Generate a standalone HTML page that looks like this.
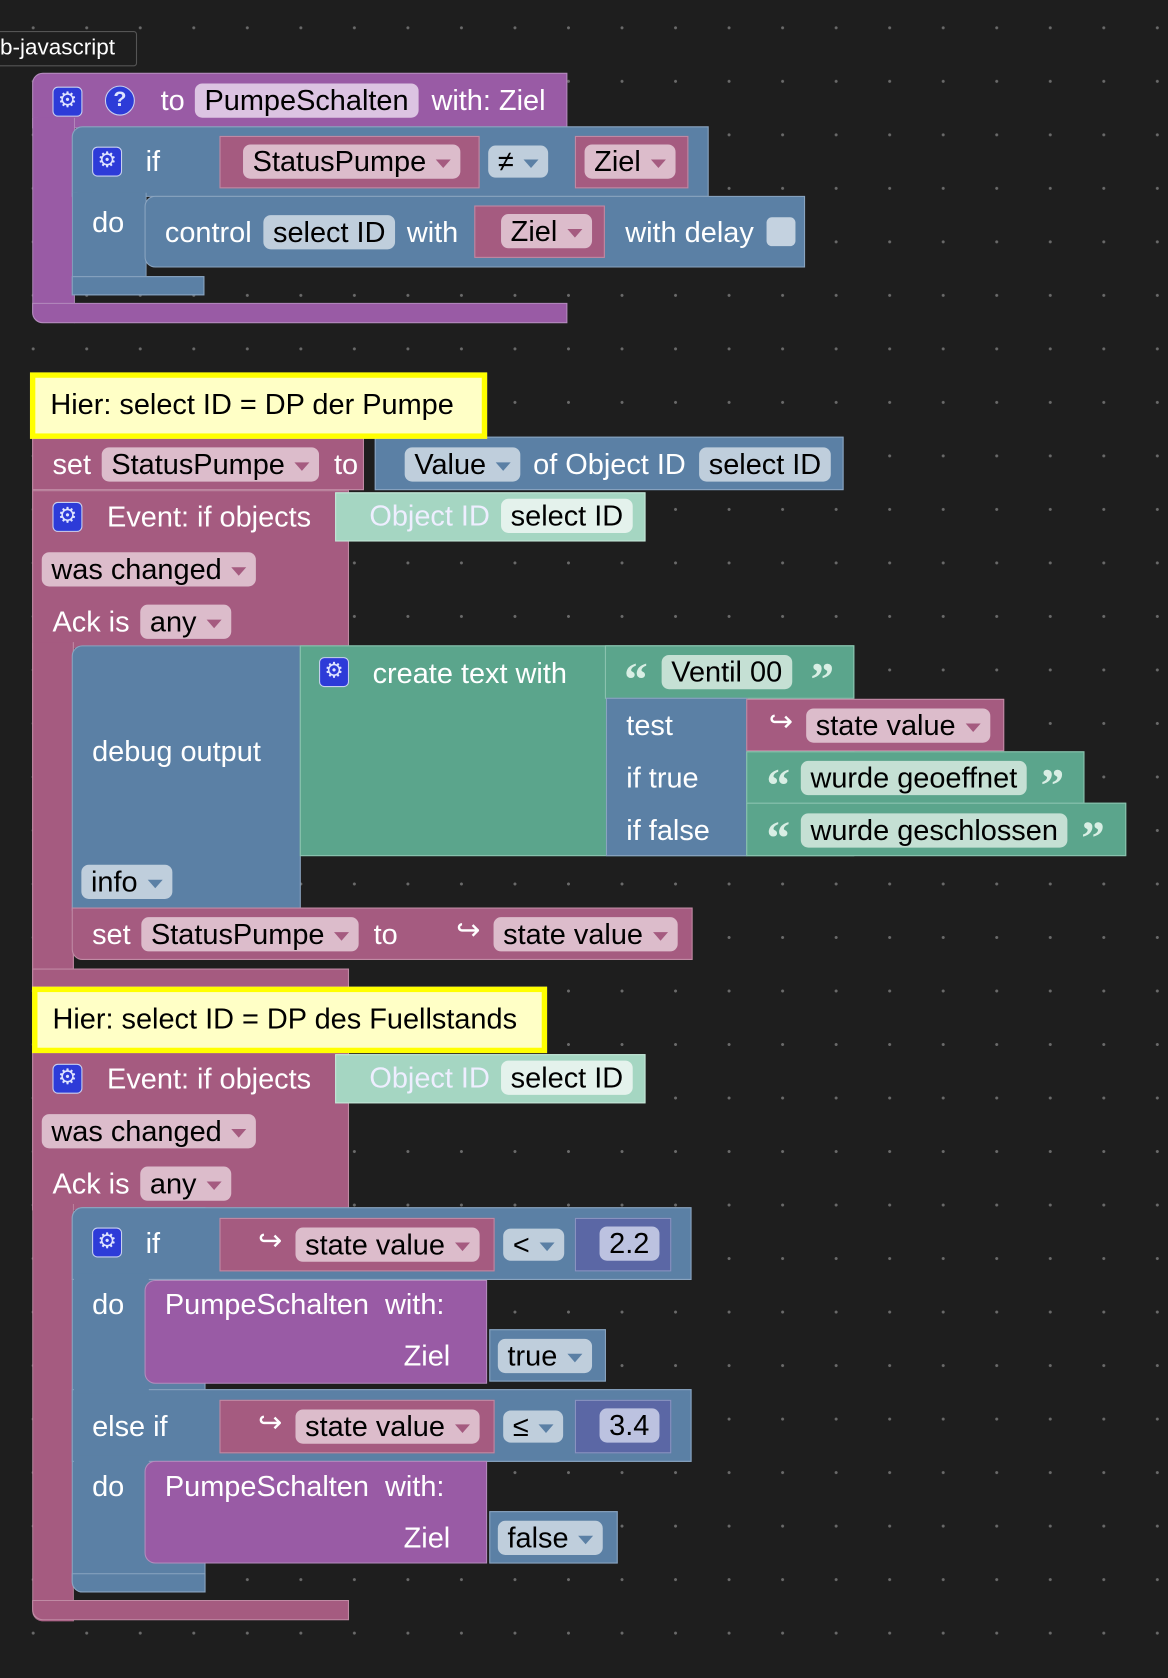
<!DOCTYPE html>
<html><head><meta charset="utf-8"><style>
html,body{margin:0;padding:0;background:#1e1e1e;width:1168px;height:1678px;overflow:hidden}
#s{position:absolute;left:0;top:0;width:1091px;height:1568px;transform:scale(1.0706,1.0702);transform-origin:0 0;
background:#1e1e1e radial-gradient(circle,#6a6a6a 1.2px,transparent 1.6px);background-size:50px 50px;background-position:6px 1px;
font-family:"Liberation Sans",sans-serif;font-size:27px;color:#fff}
div{position:absolute;box-sizing:border-box}
.p{background:#995ba5;border:1.5px solid #b48bbd}
.b{background:#5b80a5;border:1.5px solid #8aa4c0}
.r{background:#a55b80;border:1.5px solid #c08aa4}
.g{background:#5ba58c;border:1.5px solid #8cc4b0}
.t{line-height:1;white-space:nowrap}
.f{border-radius:7px;color:#000;padding:0 9px;height:32px;line-height:32px;white-space:nowrap}
.fr{background:#dcbccb}.fb{background:#bfcedc}.fg{background:#c5e0d4}.fp{background:#dcc4e2}
.dd:after{content:"";display:inline-block;margin-left:9px;border-left:7px solid transparent;border-right:7px solid transparent;border-top:8px solid #a55b80;vertical-align:middle}
.fb.dd:after{border-top-color:#5b80a5}
.gear{width:28px;height:28px;border-radius:5px;background:#2d3bd8;border:1.5px solid #c8d0f0;color:#dfe4ff;font-size:20px;line-height:25px;text-align:center}
.cm{background:#ffffc6;border:5px solid #ffff00;color:#000;padding-left:14px;line-height:50px;white-space:nowrap}
.q{font-family:"Liberation Serif",serif;font-size:44px;font-weight:bold;color:#d8eee4;line-height:1;white-space:nowrap}
</style></head><body><div id="s">

<div style="left:-2px;top:29px;width:130px;height:33px;border:1px solid #555;background:#1e1e1e;border-radius:0 3px 3px 0"></div>
<div class="t" style="left:0;top:34px;font-size:21px">b-javascript</div>

<!-- function block -->
<div class="p" style="left:30px;top:68px;width:500px;height:52px;border-radius:10px 0 0 0"></div>
<div class="p" style="left:30px;top:110px;width:40px;height:192px;border-top:none;border-radius:0 0 0 10px"></div>
<div class="p" style="left:30px;top:283px;width:500px;height:19px;border-radius:0 0 0 10px"></div>
<div class="gear" style="left:49px;top:81px">⚙</div>
<div class="gear" style="left:98px;top:80px;border-radius:50%;font-weight:bold">?</div>
<div class="t" style="left:150px;top:81px">to</div>
<div class="f fp" style="left:182px;top:78px">PumpeSchalten</div>
<div class="t" style="left:403px;top:81px">with: Ziel</div>

<div class="b" style="left:67px;top:118px;width:595px;height:66px;border-radius:10px 0 0 0"></div>
<div class="b" style="left:67px;top:180px;width:70px;height:96px;border-top:none;border-radius:0 0 0 10px"></div>
<div class="b" style="left:67px;top:258px;width:124px;height:18px"></div>
<div class="gear" style="left:86px;top:137px">⚙</div>
<div class="t" style="left:136px;top:138px">if</div>
<div class="t" style="left:86px;top:195px">do</div>
<div class="r" style="left:205px;top:127px;width:243px;height:49px"></div>
<div class="f fr dd" style="left:227px;top:135px">StatusPumpe</div>
<div class="f fb dd" style="left:456px;top:136px;height:30px;line-height:30px">≠</div>
<div class="r" style="left:537px;top:127px;width:106px;height:49px"></div>
<div class="f fr dd" style="left:546px;top:135px">Ziel</div>
<div class="b" style="left:135px;top:183px;width:617px;height:67px;border-radius:10px 0 0 10px"></div>
<div class="t" style="left:154px;top:204px">control</div>
<div class="f fb" style="left:246px;top:201px">select ID</div>
<div class="t" style="left:380px;top:204px">with</div>
<div class="r" style="left:443px;top:192px;width:122px;height:49px"></div>
<div class="f fr dd" style="left:468px;top:200px">Ziel</div>
<div class="t" style="left:584px;top:204px">with delay</div>
<div style="left:716px;top:203px;width:27px;height:27px;border-radius:5px;background:#c4d2e0"></div>

<!-- event 1 -->
<div class="r" style="left:30px;top:408px;width:310px;height:50px"></div>
<div class="b" style="left:350px;top:408px;width:438px;height:50px"></div>
<div class="t" style="left:49px;top:421px">set</div>
<div class="f fr dd" style="left:95px;top:418px">StatusPumpe</div>
<div class="t" style="left:312px;top:421px">to</div>
<div class="f fb dd" style="left:378px;top:418px">Value</div>
<div class="t" style="left:498px;top:421px">of Object ID</div>
<div class="f fb" style="left:653px;top:418px">select ID</div>

<div class="r" style="left:30px;top:458px;width:296px;height:148px;border-bottom:none"></div>
<div class="r" style="left:30px;top:600px;width:39px;height:322px;border-top:none;border-bottom:none"></div>
<div class="r" style="left:30px;top:905px;width:296px;height:20px"></div>
<div class="gear" style="left:49px;top:469px">⚙</div>
<div class="t" style="left:100px;top:470px">Event: if objects</div>
<div style="left:313px;top:460px;width:290px;height:46px;background:#a5d6c2;border:1.5px solid #c5e6d8"></div>
<div class="t" style="left:345px;top:469px;color:#eef">Object ID</div>
<div class="f fg" style="left:468px;top:466px;background:#e4f2ec">select ID</div>
<div class="f fr dd" style="left:39px;top:516px">was changed</div>
<div class="t" style="left:49px;top:568px">Ack is</div>
<div class="f fr dd" style="left:131px;top:565px">any</div>

<div class="b" style="left:67px;top:603px;width:214px;height:248px;border-radius:10px 0 0 0"></div>
<div class="t" style="left:86px;top:689px">debug output</div>
<div class="f fb dd" style="left:76px;top:808px">info</div>
<div class="g" style="left:280px;top:603px;width:518px;height:197px"></div>
<div class="gear" style="left:298px;top:614px">⚙</div>
<div class="t" style="left:348px;top:616px">create text with</div>
<div class="g" style="left:565px;top:603px;width:233px;height:50px"></div>
<div class="q" style="left:583px;top:614px">“</div>
<div class="f fg" style="left:618px;top:612px">Ventil 00</div>
<div class="q" style="left:757px;top:614px">”</div>
<div class="b" style="left:566px;top:652px;width:132px;height:148px"></div>
<div class="t" style="left:585px;top:665px">test</div>
<div class="t" style="left:585px;top:714px">if true</div>
<div class="t" style="left:585px;top:763px">if false</div>
<div class="r" style="left:697px;top:653px;width:241px;height:49px"></div>
<div class="t" style="left:718px;top:661px">↪</div>
<div class="f fr dd" style="left:753px;top:662px">state value</div>
<div class="g" style="left:697px;top:702px;width:316px;height:49px"></div>
<div class="q" style="left:716px;top:713px">“</div>
<div class="f fg" style="left:748px;top:711px">wurde geoeffnet</div>
<div class="q" style="left:972px;top:713px">”</div>
<div class="g" style="left:697px;top:750px;width:355px;height:50px"></div>
<div class="q" style="left:716px;top:762px">“</div>
<div class="f fg" style="left:748px;top:760px">wurde geschlossen</div>
<div class="q" style="left:1010px;top:762px">”</div>

<div class="r" style="left:67px;top:848px;width:580px;height:49px;border-radius:0 0 0 10px"></div>
<div class="t" style="left:86px;top:860px">set</div>
<div class="f fr dd" style="left:132px;top:857px">StatusPumpe</div>
<div class="t" style="left:349px;top:860px">to</div>
<div class="t" style="left:426px;top:856px">↪</div>
<div class="f fr dd" style="left:461px;top:857px">state value</div>

<div class="cm" style="left:28px;top:348px;width:427px;height:62px">Hier: select ID = DP der Pumpe</div>

<!-- event 2 -->
<div class="r" style="left:30px;top:982px;width:296px;height:149px;border-bottom:none"></div>
<div class="r" style="left:30px;top:1125px;width:39px;height:390px;border-top:none;border-bottom:none;border-radius:0 0 0 10px"></div>
<div class="r" style="left:30px;top:1495px;width:296px;height:19px;border-radius:0 0 0 10px"></div>
<div class="gear" style="left:49px;top:994px">⚙</div>
<div class="t" style="left:100px;top:995px">Event: if objects</div>
<div style="left:313px;top:985px;width:290px;height:46px;background:#a5d6c2;border:1.5px solid #c5e6d8"></div>
<div class="t" style="left:345px;top:994px;color:#eef">Object ID</div>
<div class="f fg" style="left:468px;top:991px;background:#e4f2ec">select ID</div>
<div class="f fr dd" style="left:39px;top:1041px">was changed</div>
<div class="t" style="left:49px;top:1093px">Ack is</div>
<div class="f fr dd" style="left:131px;top:1090px">any</div>

<div class="cm" style="left:30px;top:922px;width:481px;height:62px">Hier: select ID = DP des Fuellstands</div>

<div class="b" style="left:67px;top:1128px;width:125px;height:360px;border-radius:10px 0 0 10px"></div>
<div class="b" style="left:67px;top:1128px;width:579px;height:68px;border-radius:10px 0 0 0"></div>
<div class="b" style="left:67px;top:1298px;width:579px;height:68px;border-radius:0"></div>
<div class="b" style="left:69px;top:1190px;width:70px;height:112px;border:none"></div>
<div class="b" style="left:69px;top:1360px;width:70px;height:112px;border:none"></div>
<div class="b" style="left:67px;top:1470px;width:125px;height:18px;border-radius:0 0 0 10px"></div>
<div class="gear" style="left:86px;top:1147px">⚙</div>
<div class="t" style="left:136px;top:1149px">if</div>
<div class="t" style="left:86px;top:1206px">do</div>
<div class="t" style="left:86px;top:1320px">else if</div>
<div class="t" style="left:86px;top:1376px">do</div>

<div class="r" style="left:205px;top:1138px;width:257px;height:50px"></div>
<div class="t" style="left:241px;top:1146px">↪</div>
<div class="f fr dd" style="left:276px;top:1147px">state value</div>
<div class="f fb dd" style="left:470px;top:1148px;height:30px;line-height:30px">&lt;</div>
<div style="left:537px;top:1138px;width:90px;height:50px;background:#5b67a5;border:1.5px solid #8a94c0"></div>
<div class="f fb" style="left:560px;top:1146px;background:#bcc2e0">2.2</div>
<div class="p" style="left:135px;top:1196px;width:320px;height:97px;border-radius:10px 0 0 10px"></div>
<div class="t" style="left:154px;top:1206px">PumpeSchalten&nbsp; with:</div>
<div class="t" style="left:377px;top:1254px">Ziel</div>
<div class="b" style="left:457px;top:1242px;width:109px;height:49px"></div>
<div class="f fb dd" style="left:465px;top:1251px">true</div>

<div class="r" style="left:205px;top:1308px;width:257px;height:50px"></div>
<div class="t" style="left:241px;top:1316px">↪</div>
<div class="f fr dd" style="left:276px;top:1317px">state value</div>
<div class="f fb dd" style="left:470px;top:1318px;height:30px;line-height:30px">≤</div>
<div style="left:537px;top:1308px;width:90px;height:50px;background:#5b67a5;border:1.5px solid #8a94c0"></div>
<div class="f fb" style="left:560px;top:1316px;background:#bcc2e0">3.4</div>
<div class="p" style="left:135px;top:1365px;width:320px;height:96px;border-radius:10px 0 0 10px"></div>
<div class="t" style="left:154px;top:1376px">PumpeSchalten&nbsp; with:</div>
<div class="t" style="left:377px;top:1424px">Ziel</div>
<div class="b" style="left:457px;top:1412px;width:120px;height:49px"></div>
<div class="f fb dd" style="left:465px;top:1421px">false</div>

</div></body></html>
